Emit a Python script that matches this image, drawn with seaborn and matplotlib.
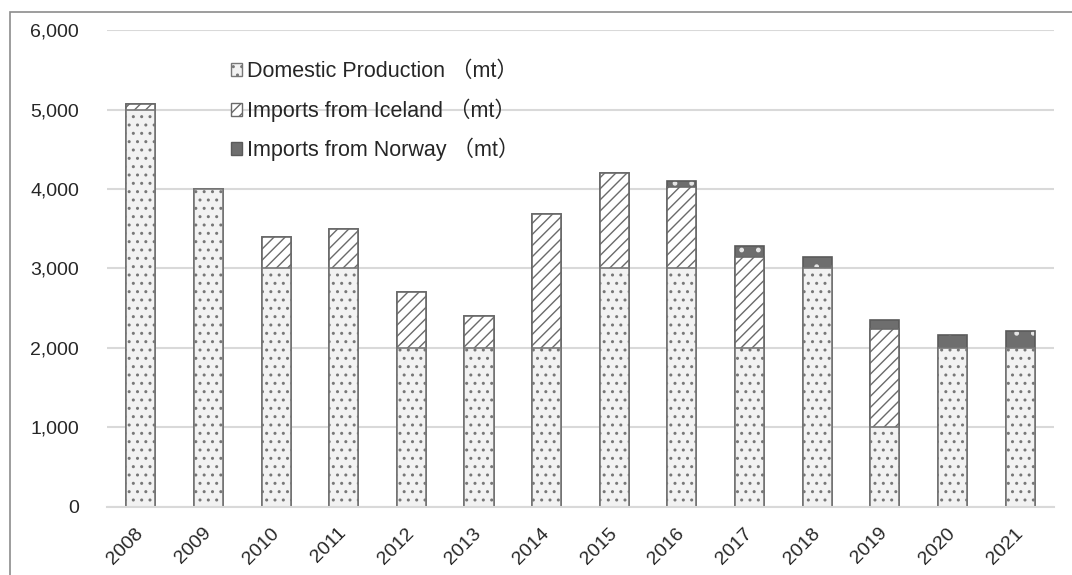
import matplotlib
matplotlib.use("Agg")
import matplotlib.pyplot as plt
import matplotlib.patches as mpatches
import numpy as np
import pandas as pd
import seaborn as sns

years = ["2008", "2009", "2010", "2011", "2012", "2013", "2014",
         "2015", "2016", "2017", "2018", "2019", "2020", "2021"]
domestic = [5000, 4000, 3000, 3000, 2000, 2000, 2000,
            3000, 3000, 2000, 3000, 1000, 2000, 2000]
iceland = [75, 0, 400, 500, 700, 400, 1690,
           1200, 1030, 1140, 0, 1240, 0, 0]
norway = [0, 0, 0, 0, 0, 0, 0,
          0, 70, 140, 140, 115, 165, 215]
labels = ["Domestic Production （mt）", "Imports from Iceland （mt）",
          "Imports from Norway （mt）"]

sns.set_style("white")
plt.rcParams["font.family"] = ["Liberation Sans", "Noto Sans CJK JP", "DejaVu Sans"]
plt.rcParams["hatch.linewidth"] = 1.0

df = pd.DataFrame({"year": years, "domestic": domestic,
                   "iceland": iceland, "norway": norway})
df["lvl2"] = df["domestic"] + df["iceland"]
df["lvl3"] = df["lvl2"] + df["norway"]

fig = plt.figure(figsize=(10.72, 5.75), dpi=100)
ax = fig.add_axes([0.0998, 0.1183, 0.8834, 0.8295])

edge = "#777777"
bw = 0.43
# top layer (Norway): dark fill with light dots, then outline
sns.barplot(data=df, x="year", y="lvl3", ax=ax, color="#6e6e6e", width=bw,
            edgecolor="#e6e6e6", linewidth=0, hatch=".", saturation=1)
sns.barplot(data=df, x="year", y="lvl3", ax=ax, fill=False, width=bw,
            edgecolor="#5a5a5a", linewidth=1.2)
# middle layer (Iceland)
sns.barplot(data=df, x="year", y="lvl2", ax=ax, color="white", width=bw,
            edgecolor="#6a6a6a", linewidth=1.2, hatch="///", saturation=1)
# bottom layer (domestic)
sns.barplot(data=df, x="year", y="domestic", ax=ax, color="#f2f2f2", width=bw,
            edgecolor=edge, linewidth=1.2, hatch="..", saturation=1)

ax.set_ylim(0, 6000)
ax.set_xlim(-0.5, len(years) - 0.5)
ax.set_yticks(range(0, 6001, 1000))
ax.set_yticklabels([f"{v:,}" for v in range(0, 6001, 1000)], fontsize=14)
ax.set_axisbelow(True)
ax.yaxis.grid(True, color="#d9d9d9", linewidth=1.5)
ax.set_xlabel("")
ax.set_ylabel("")
for s in ["top", "right", "left"]:
    ax.spines[s].set_visible(False)
ax.spines["bottom"].set_color("#d9d9d9")
ax.spines["bottom"].set_linewidth(1.5)
ax.tick_params(axis="both", length=0)
ax.tick_params(axis="y", pad=20)
ax.tick_params(axis="x", pad=17)
plt.setp(ax.get_xticklabels(), rotation=45, ha="right", va="center",
         rotation_mode="anchor", fontsize=14)

handles = [
    mpatches.Patch(facecolor="#f2f2f2", edgecolor=edge, hatch="..", label=labels[0]),
    mpatches.Patch(facecolor="white", edgecolor="#6a6a6a", hatch="///", label=labels[1]),
    mpatches.Patch(facecolor="#6e6e6e", edgecolor="#5a5a5a", label=labels[2]),
]
ax.legend(handles=handles, loc="upper left", bbox_to_anchor=(0.11, 0.975),
          frameon=False, fontsize=15.5, handlelength=0.55, handleheight=0.55,
          handletextpad=0.2, labelspacing=0.75)

# outer chart border
fig.patches.append(mpatches.Rectangle((10 / 1072, -0.1), 1.2, 1.1 - 12 / 575,
                                      transform=fig.transFigure, fill=False,
                                      edgecolor="#8c8c8c", linewidth=1.2))

fig.savefig("out.png", dpi=100)
